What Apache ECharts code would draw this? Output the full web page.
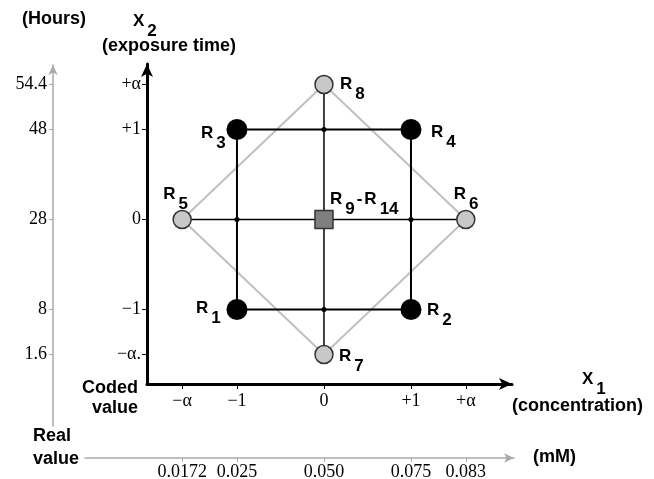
<!DOCTYPE html>
<html>
<head>
<meta charset="utf-8">
<script src="https://cdn.jsdelivr.net/npm/echarts@6/dist/echarts.min.js"></script>
<style>
html, body { margin: 0; padding: 0; background: #fff; }
#main { width: 654px; height: 479px; }
</style>
</head>
<body>
<div id="main"></div>
<script>
// coded levels of the design (alpha)
var alphaX = 1.63;
var alphaY = 1.5;
var codedX = [-alphaX, -1, 0, 1, alphaX];
var codedY = [-alphaY, -1, 0, 1, alphaY];
var codedXLabels = ['−α', '−1', '0', '+1', '+α'];
var codedYLabels = ['−α.', '−1', '0', '+1', '+α'];
var realXLabels = ['0.0172', '0.025', '0.050', '0.075', '0.083'];
var realYLabels = ['1.6', '8', '28', '48', '54.4'];

// runs: [x1, x2, run number]
var factorialRuns = [[-1, -1, '1'], [1, -1, '2'], [-1, 1, '3'], [1, 1, '4']];
var axialRuns = [[-alphaX, 0, '5'], [alphaX, 0, '6'], [0, -alphaY, '7'], [0, alphaY, '8']];
var centerRuns = [[0, 0, '9', '14']];

// where each run label sits, relative to its point
var labelOffset = {
    '1': [-41, -11], '2': [16, -9], '3': [-36, -6], '4': [20, -7],
    '5': [-19, -35], '6': [-12, -35], '7': [15, -8], '8': [16, -10],
    '9': [6, -30]
};

var sans = 'Liberation Sans';
var serif = 'Liberation Serif';

function pick(v, values, labels) {
    for (var i = 0; i < values.length; i++) {
        if (Math.abs(values[i] - v) < 1e-6) return labels[i];
    }
    return '';
}

var richSub = {
    r: { fontSize: 17, fontWeight: 'bold', fontFamily: sans, color: '#000', lineHeight: 20 },
    s: { fontSize: 17, fontWeight: 'bold', fontFamily: sans, color: '#000', lineHeight: 20, padding: [20, 0, 0, 3] },
    m: { fontSize: 17, fontWeight: 'bold', fontFamily: sans, color: '#000', lineHeight: 20, padding: [0, 2, 0, 2] }
};

function runItem(run) {
    var text = '{r|R}{s|' + run[2] + '}';
    if (run[3]) text += '{m|-}{r|R}{s|' + run[3] + '}';
    return {
        value: [run[0], run[1]],
        label: {
            show: true,
            position: 'inside',
            align: 'left',
            verticalAlign: 'top',
            offset: labelOffset[run[2]],
            formatter: text,
            rich: richSub
        }
    };
}

// lines of the design
var diamond = [axialRuns[3], axialRuns[1], axialRuns[2], axialRuns[0], axialRuns[3]].map(function (r) { return [r[0], r[1]]; });
var square = [[-1, 1], [1, 1], [1, -1], [-1, -1], [-1, 1]];
var crossH = [[-alphaX, 0], [alphaX, 0]];
var crossV = [[0, -alphaY], [0, alphaY]];
var joints = [[-1, 0], [1, 0], [0, 1], [0, -1]];

var chart = echarts.init(document.getElementById('main'));

var tickFont = { fontFamily: serif, fontSize: 18, color: '#000' };
var titleFont = 'bold 18px Liberation Sans';

var option = {
    animation: false,
    backgroundColor: '#fff',
    grid: [
        { left: 147, top: 64, width: 365, height: 320, outerBoundsMode: 'none' },
        { left: 85, top: 64, width: 429, height: 394, outerBoundsMode: 'none' },
        { left: 53, top: 65, width: 400, height: 361, outerBoundsMode: 'none' }
    ],
    xAxis: [
        {
            gridIndex: 0, type: 'value', min: -2.034, max: 2.161,
            splitLine: { show: false },
            axisLine: { onZero: false, lineStyle: { color: '#000', width: 3 }, symbol: ['none', 'arrow'], symbolSize: [9, 13] },
            axisTick: { show: true, length: 5, lineStyle: { color: '#000', width: 1 }, customValues: codedX },
            axisLabel: Object.assign({ margin: 8, customValues: codedX, formatter: function (v) { return pick(v, codedX, codedXLabels); } }, tickFont)
        },
        {
            gridIndex: 1, type: 'value', min: -2.747, max: 2.184,
            splitLine: { show: false },
            axisLine: { onZero: false, lineStyle: { color: '#aaa', width: 1.5 }, symbol: ['none', 'arrow'], symbolSize: [7, 10] },
            axisTick: { show: true, length: 4, lineStyle: { color: '#aaa' }, customValues: codedX },
            axisLabel: Object.assign({ margin: 5, customValues: codedX, formatter: function (v) { return pick(v, codedX, realXLabels); } }, tickFont)
        },
        { gridIndex: 2, type: 'value', show: false }
    ],
    yAxis: [
        {
            gridIndex: 0, type: 'value', min: -1.828, max: 1.728,
            splitLine: { show: false },
            axisLine: { onZero: false, lineStyle: { color: '#000', width: 3 }, symbol: ['none', 'arrow'], symbolSize: [9, 13] },
            axisTick: { show: true, length: 5, lineStyle: { color: '#000', width: 1 }, customValues: codedY },
            axisLabel: Object.assign({ margin: 6, customValues: codedY, formatter: function (v) { return pick(v, codedY, codedYLabels); } }, tickFont)
        },
        { gridIndex: 1, type: 'value', show: false },
        {
            gridIndex: 2, type: 'value', min: -2.294, max: 1.717,
            splitLine: { show: false },
            axisLine: { onZero: false, lineStyle: { color: '#aaa', width: 1.5 }, symbol: ['none', 'arrow'], symbolSize: [7, 10] },
            axisTick: { show: true, length: 4, lineStyle: { color: '#aaa' }, customValues: codedY },
            axisLabel: Object.assign({ margin: 6, customValues: codedY, formatter: function (v) { return pick(v, codedY, realYLabels); } }, tickFont)
        }
    ],
    series: [
        { type: 'line', data: diamond, symbol: 'none', silent: true, z: 1, lineStyle: { color: '#c0c0c0', width: 2 } },
        { type: 'line', data: square, symbol: 'none', silent: true, z: 2, lineStyle: { color: '#000', width: 2 } },
        { type: 'line', data: crossH, symbol: 'none', silent: true, z: 2, lineStyle: { color: '#000', width: 1.5 } },
        { type: 'line', data: crossV, symbol: 'none', silent: true, z: 2, lineStyle: { color: '#000', width: 1.5 } },
        { type: 'scatter', data: joints, symbolSize: 5, z: 3, itemStyle: { color: '#000', opacity: 1 } },
        { type: 'scatter', data: factorialRuns.map(runItem), symbol: 'circle', symbolSize: 21, z: 4, itemStyle: { color: '#000', opacity: 1 } },
        { type: 'scatter', data: axialRuns.map(runItem), symbol: 'circle', symbolSize: 18, z: 4, itemStyle: { color: '#c8c8c8', borderColor: '#333', borderWidth: 1.5, opacity: 1 } },
        { type: 'scatter', data: centerRuns.map(runItem), symbol: 'rect', symbolSize: 18, z: 4, itemStyle: { color: '#7f7f7f', borderColor: '#333', borderWidth: 1.5, opacity: 1 } }
    ],
    graphic: [
        { type: 'text', left: 22, top: 10, style: { text: '(Hours)', font: titleFont, fill: '#000' } },
        { type: 'text', left: 133, top: 3, style: { text: '{r|X}{s|2}', rich: richSub } },
        { type: 'text', left: 102, top: 37, style: { text: '(exposure time)', font: titleFont, fill: '#000' } },
        { type: 'text', right: 516, top: 379, style: { text: 'Coded', font: titleFont, fill: '#000' } },
        { type: 'text', right: 516, top: 399, style: { text: 'value', font: titleFont, fill: '#000' } },
        { type: 'text', left: 33, top: 427, style: { text: 'Real', font: titleFont, fill: '#000' } },
        { type: 'text', left: 33, top: 450, style: { text: 'value', font: titleFont, fill: '#000' } },
        { type: 'text', left: 582, top: 361, style: { text: '{r|X}{s|1}', rich: richSub } },
        { type: 'text', left: 512, top: 397, style: { text: '(concentration)', font: titleFont, fill: '#000' } },
        { type: 'text', left: 533, top: 448, style: { text: '(mM)', font: titleFont, fill: '#000' } }
    ]
};

// every series lives on the coded grid
option.series.forEach(function (s) { s.xAxisIndex = 0; s.yAxisIndex = 0; });

chart.setOption(option);
</script>
</body>
</html>
